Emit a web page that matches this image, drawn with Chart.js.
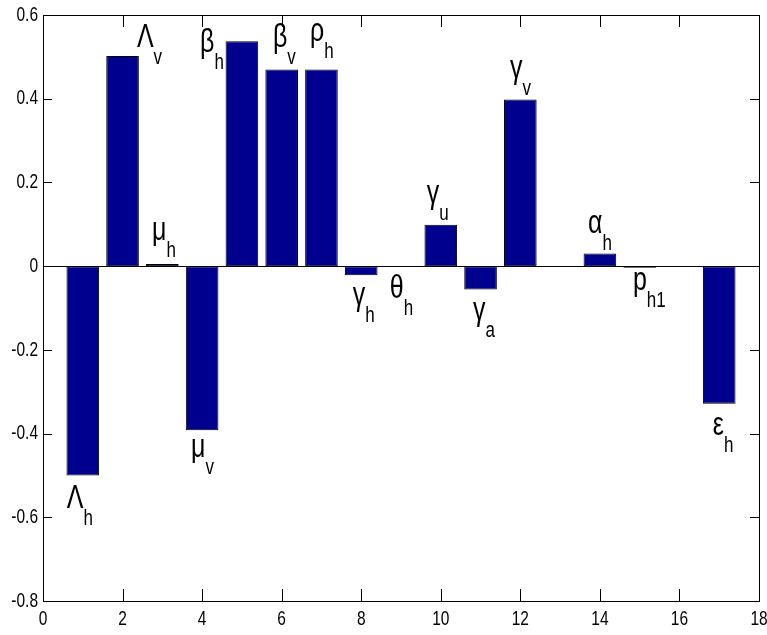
<!DOCTYPE html>
<html>
<head>
<meta charset="utf-8">
<script src="https://cdn.jsdelivr.net/npm/chart.js@4.4.1/dist/chart.umd.min.js"></script>
<style>
  html, body { margin: 0; padding: 0; background: #fff; }
  #wrap { width: 767px; height: 635px; }
</style>
</head>
<body>
<div id="wrap"><canvas id="chart" width="767" height="635"></canvas></div>
<script>
// Sensitivity indices, one bar per parameter
const positions = [1, 2, 3, 4, 5, 6, 7, 8, 9, 10, 11, 12, 13, 14, 15, 16, 17];
const values = [-0.5, 0.502, 0.005, -0.392, 0.537, 0.47, 0.47, -0.022, 0, 0.099, -0.056, 0.398, 0, 0.03, -0.004, 0, -0.329];

// parameter names: main symbol + subscript ('' = no label)
const symbols = ['Λ', 'Λ', 'μ', 'μ', 'β', 'β', 'ρ', 'γ', 'θ', 'γ', 'γ', 'γ', '', 'α', 'p', '', 'ε'];
const subscripts = ['h', 'v', 'h', 'v', 'h', 'v', 'h', 'h', 'h', 'u', 'a', 'v', '', 'h', 'h1', '', 'h'];
// where each name is written, in data units (like text(x, y, ...))
const labelX = [0.60, 2.36, 2.74, 3.72, 3.95, 5.78, 6.71, 7.79, 8.72, 9.65, 10.81, 11.74, 0, 13.70, 14.83, 0, 16.84];
const labelY = [-0.578, 0.523, 0.062, -0.456, 0.511, 0.523, 0.538, -0.093, -0.076, 0.150, -0.129, 0.449, 0, 0.079, -0.057, 0, -0.404];

const xTicks = { min: 0, max: 18, step: 2 };
const yTicks = { min: -0.8, max: 0.6, step: 0.2 };

const STRETCH = 1.35;   // the original figure is stretched vertically
const FONT = '"Liberation Sans", Arial, sans-serif';

function fmt(v) {
    const r = Math.round(v * 10) / 10;
    return String(r === 0 ? 0 : r);
}

function stretchedText(ctx, text, x, y) {
    ctx.save();
    ctx.translate(x, y);
    ctx.scale(1, STRETCH);
    ctx.fillText(text, 0, 0);
    ctx.restore();
}

const matlabAxes = {
    id: 'matlabAxes',
    afterDatasetsDraw(chart) {
        const { ctx, chartArea: a, scales: { x, y } } = chart;
        ctx.save();
        ctx.strokeStyle = '#000';
        ctx.lineWidth = 1;

        // baseline at zero
        const y0 = Math.round(y.getPixelForValue(0)) + 0.5;
        ctx.beginPath();
        ctx.moveTo(a.left, y0);
        ctx.lineTo(a.right, y0);
        ctx.stroke();

        // box
        ctx.strokeRect(Math.round(a.left) + 0.5, Math.round(a.top) + 0.5,
            Math.round(a.right - a.left), Math.round(a.bottom - a.top));

        // inward ticks
        ctx.beginPath();
        x.ticks.forEach(t => {
            const px = Math.round(x.getPixelForValue(t.value)) + 0.5;
            ctx.moveTo(px, a.bottom); ctx.lineTo(px, a.bottom - 12);
            ctx.moveTo(px, a.top); ctx.lineTo(px, a.top + 12);
        });
        y.ticks.forEach(t => {
            const py = Math.round(y.getPixelForValue(t.value)) + 0.5;
            ctx.moveTo(a.left, py); ctx.lineTo(a.left + 9, py);
            ctx.moveTo(a.right, py); ctx.lineTo(a.right - 9, py);
        });
        ctx.stroke();

        // tick labels
        ctx.fillStyle = '#000';
        ctx.font = '15.5px ' + FONT;
        ctx.textAlign = 'center';
        ctx.textBaseline = 'top';
        x.ticks.forEach(t => stretchedText(ctx, fmt(t.value), x.getPixelForValue(t.value), a.bottom + 8));
        ctx.textAlign = 'right';
        ctx.textBaseline = 'middle';
        y.ticks.forEach(t => stretchedText(ctx, fmt(t.value), a.left - 5, y.getPixelForValue(t.value)));

        // parameter names
        ctx.textAlign = 'left';
        ctx.textBaseline = 'alphabetic';
        symbols.forEach((s, i) => {
            if (!s) return;
            const px = x.getPixelForValue(labelX[i]);
            const py = y.getPixelForValue(labelY[i]);
            ctx.save();
            ctx.translate(px, py);
            ctx.scale(1, STRETCH);
            ctx.font = '25px ' + FONT;
            ctx.fillText(s, 0, 0);
            const w = ctx.measureText(s).width;
            ctx.font = '17px ' + FONT;
            ctx.fillText(subscripts[i], w, 17 / STRETCH);
            ctx.restore();
        });
        ctx.restore();
    }
};

new Chart(document.getElementById('chart'), {
    type: 'bar',
    data: {
        datasets: [{
            data: positions.map((p, i) => ({ x: p, y: values[i] })),
            backgroundColor: '#00008f',
            borderColor: '#000',
            borderWidth: 1,
            borderSkipped: false,
            barPercentage: 0.82,
            categoryPercentage: 1.0
        }]
    },
    options: {
        responsive: false,
        animation: false,
        layout: { padding: { left: 43, right: 8, top: 15, bottom: 34 } },
        plugins: { legend: { display: false }, tooltip: { enabled: false } },
        scales: {
            x: {
                type: 'linear',
                offset: false,
                min: xTicks.min, max: xTicks.max,
                ticks: { stepSize: xTicks.step, display: false },
                grid: { display: false, drawTicks: false, offset: false },
                border: { display: false },
                afterFit: s => { s.height = 0; }
            },
            y: {
                min: yTicks.min, max: yTicks.max,
                ticks: { stepSize: yTicks.step, display: false },
                grid: { display: false, drawTicks: false },
                border: { display: false },
                afterFit: s => { s.width = 0; }
            }
        }
    },
    plugins: [matlabAxes]
});
</script>
</body>
</html>
